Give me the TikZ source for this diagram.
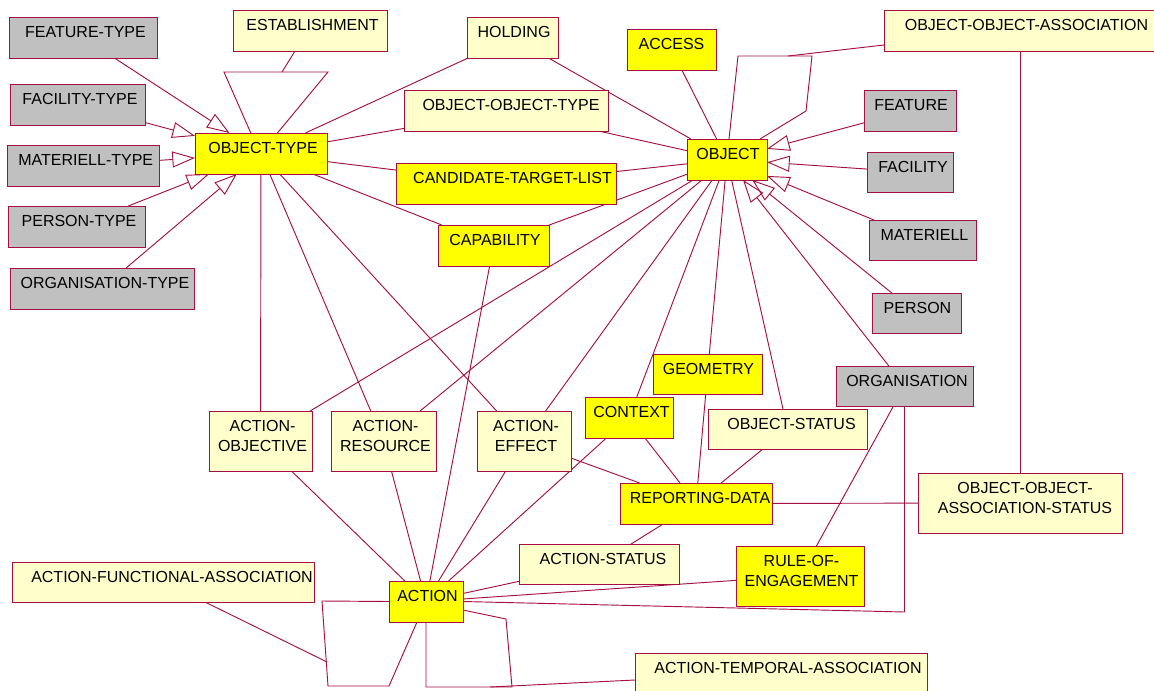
\documentclass[tikz,border=0pt]{standalone}
\usepackage{fontspec}
\setmainfont{Liberation Sans}
\usetikzlibrary{arrows.meta,calc,fit,backgrounds}

\definecolor{edge}{RGB}{165,15,65}
\definecolor{boxyellow}{RGB}{255,255,0}
\definecolor{boxcream}{RGB}{255,255,204}
\definecolor{boxgray}{RGB}{192,192,192}

\tikzset{
  entity/.style={draw=edge, line width=0.7pt, inner sep=0pt, outer sep=0pt},
  core/.style={entity, fill=boxyellow},
  plain/.style={entity, fill=boxcream},
  kind/.style={entity, fill=boxgray},
  txt/.style={anchor=base, inner sep=0pt, outer sep=0pt, font=\fontsize{12}{14}\selectfont, text=black},
  link/.style={draw=edge, line width=0.7pt},
  isa/.style={link, -{Triangle[open, length=17pt, width=12pt]}},
}

% entity box spanning two corners (pixel units, y downwards)
\newcommand\mkbox[6]{\node[#2, fit={(#3,#4) (#5,#6)}] (#1) {};}
% one-line and two-line entity names, shifted right by #2
\newcommand\lblone[3]{\node[txt] (#1-l) at ($(#1.north)+(#2,20.5)$) {#3};}
\newcommand\lbltwo[4]{\node[txt] (#1-l) at ($(#1.north)+(#2,20.5)$) {#3};
  \node[txt] (#1-m) at ($(#1.north)+(#2,40)$) {#4};}

\begin{document}
\begin{tikzpicture}[x=0.75pt, y=-0.75pt]
\useasboundingbox (0,0) rectangle (1154,690);

% ---------- type entities ----------
\mkbox{ftype}{kind}{9}{17}{157}{58}        \lblone{ftype}{2.5}{FEATURE-TYPE}
\mkbox{fctype}{kind}{10}{84}{145}{125}     \lblone{fctype}{2.5}{FACILITY-TYPE}
\mkbox{mtype}{kind}{7}{145}{159}{186}      \lblone{mtype}{2.7}{MATERIELL-TYPE}
\mkbox{ptype}{kind}{8}{206}{145}{247}      \lblone{ptype}{2.5}{PERSON-TYPE}
\mkbox{orgtype}{kind}{10}{268}{194}{309}   \lblone{orgtype}{3}{ORGANISATION-TYPE}

% ---------- object subtypes ----------
\mkbox{feat}{kind}{864}{90}{956}{131}      \lblone{feat}{1}{FEATURE}
\mkbox{fac}{kind}{867}{152}{953}{192}      \lblone{fac}{3}{FACILITY}
\mkbox{mat}{kind}{869}{220}{976}{260}      \lblone{mat}{2}{MATERIELL}
\mkbox{pers}{kind}{872}{293}{961}{333}     \lblone{pers}{1}{PERSON}
\mkbox{org}{kind}{836}{366}{973}{406}      \lblone{org}{2.5}{ORGANISATION}

% ---------- core entities ----------
\mkbox{ot}{core}{195}{133}{327}{174}       \lblone{ot}{2}{OBJECT-TYPE}
\mkbox{acc}{core}{627}{29}{716}{70}        \lblone{acc}{0}{ACCESS}
\mkbox{ctl}{core}{396}{163}{616}{204}      \lblone{ctl}{6.5}{CANDIDATE-TARGET-LIST}
\mkbox{cap}{core}{438}{225}{549}{266}      \lblone{cap}{1.5}{CAPABILITY}
\mkbox{obj}{core}{687}{139}{767}{180}      \lblone{obj}{1}{OBJECT}
\mkbox{geo}{core}{653}{354}{762}{394}      \lblone{geo}{1}{GEOMETRY}
\mkbox{ctx}{core}{585}{397}{673}{438}      \lblone{ctx}{2.5}{CONTEXT}
\mkbox{rd}{core}{620}{483}{772}{524}       \lblone{rd}{4}{REPORTING-DATA}
\mkbox{roe}{core}{736}{546}{864}{606}      \lbltwo{roe}{1.5}{RULE-OF-}{ENGAGEMENT}
\mkbox{act}{core}{389}{581}{463}{622}      \lblone{act}{1.5}{ACTION}

% ---------- associative entities ----------
\mkbox{est}{plain}{233}{10}{387}{51}       \lblone{est}{2.5}{ESTABLISHMENT}
\mkbox{hold}{plain}{467}{17}{558}{58}      \lblone{hold}{1.5}{HOLDING}
\mkbox{oot}{plain}{404}{90}{608}{131}      \lblone{oot}{5}{OBJECT-OBJECT-TYPE}
\mkbox{ooa}{plain}{884}{10}{1170}{51}      \lblone{ooa}{-0.5}{OBJECT-OBJECT-ASSOCIATION}
\mkbox{ostat}{plain}{708}{409}{867}{449}   \lblone{ostat}{4}{OBJECT-STATUS}
\mkbox{ooas}{plain}{918}{473}{1122}{533}   \lbltwo{ooas}{5}{OBJECT-OBJECT-}{ASSOCIATION-STATUS}
\mkbox{ao}{plain}{209}{411}{312}{471}      \lbltwo{ao}{2}{ACTION-}{OBJECTIVE}
\mkbox{ar}{plain}{331}{411}{436}{471}      \lbltwo{ar}{2}{ACTION-}{RESOURCE}
\mkbox{ae}{plain}{477}{411}{571}{471}      \lbltwo{ae}{2}{ACTION-}{EFFECT}
\mkbox{astat}{plain}{519}{544}{679}{584}   \lblone{astat}{4}{ACTION-STATUS}
\mkbox{afa}{plain}{12}{562}{314}{602}      \lblone{afa}{9}{ACTION-FUNCTIONAL-ASSOCIATION}
\mkbox{ata}{plain}{635}{653}{927}{692}     \lblone{ata}{7}{ACTION-TEMPORAL-ASSOCIATION}

% ---------- bend points ----------
\coordinate (est-in) at (282,72);
\coordinate (tri-l) at (224,72);
\coordinate (tri-r) at (328,72);
\coordinate (tri-a) at (260,154);
\coordinate (oloop-a) at (738,56);
\coordinate (oloop-b) at (812,56);
\coordinate (oloop-c) at (806,111);
\coordinate (oloop-m) at (788,56);
\coordinate (fl-a) at (322,601);
\coordinate (fl-b) at (328,686);
\coordinate (fl-c) at (389,686);
\coordinate (fl-m) at (327,662);
\coordinate (tl-a) at (426,687);
\coordinate (tl-b) at (512,687);
\coordinate (tl-c) at (506,619);
\coordinate (tl-m) at (490,687);
\coordinate (oa-c) at (904.5,612);

\begin{pgfonlayer}{background}
% generalisations
\draw[isa] (ftype) -- (ot);
\draw[isa] (fctype) -- (ot);
\draw[isa] (mtype) -- (ot);
\draw[isa] (ptype) -- (ot);
\draw[isa] (orgtype) -- (ot);
\draw[isa] (feat) -- (obj);
\draw[isa] (fac) -- (obj);
\draw[isa] (mat) -- (obj);
\draw[isa] (pers) -- (obj);
\draw[isa] (org) -- (obj);

% establishment aggregation
\draw[link] ($(est.south)+(-15,0)$) -- (est-in);
\draw[link] (tri-l) -- (tri-r) -- (tri-a) -- cycle;

% object-type relations
\draw[link] (ot) -- (hold);
\draw[link] (ot) -- (oot);
\draw[link] (oot) -- (obj);
\draw[link] (ot) -- (ctl);
\draw[link] (ctl) -- (obj);
\draw[link] (ot) -- (cap);
\draw[link] (cap) -- (obj);
\draw[link] (cap) -- (act);
\draw[link] (ot) -- (ao);
\draw[link] (ot) -- (ar);
\draw[link] (ot) -- (ae);

% object relations
\draw[link] (acc) -- (obj);
\draw[link] (hold) -- (obj);
\draw[link] (obj) -- (ao);
\draw[link] (obj) -- (ar);
\draw[link] (obj) -- (ae);
\draw[link] (obj) -- (ctx);
\draw[link] (obj) -- (geo);
\draw[link] (obj) -- (ostat);
\draw[link] ($(obj.north)+(2,0)$) -- (oloop-a) -- (oloop-b) -- (oloop-c) -- ($(obj.north east)+(-7,0)$);
\draw[link] (oloop-m) -- ($(ooa.south west)+(0,-6)$);
\draw[link] (ooa.south -| ooas.north) -- (ooas.north);

% action relations
\draw[link] (ao) -- (act);
\draw[link] (ar) -- (act);
\draw[link] (ae) -- (act);
\draw[link] (ctx) -- (act);
\draw[link] (act) -- (astat);
\draw[link] (act) -- (roe);
\draw[link] (act.east) -- (oa-c) -- (org.south);
\draw[link] (org) -- (roe);
\draw[link] (act.west) -- (fl-a) -- (fl-b) -- (fl-c) -- ($(act.south)+(-9,0)$);
\draw[link] ($(afa.south)+(42,0)$) -- (fl-m);
\draw[link] (act.south) -- (tl-a) -- (tl-b) -- (tl-c) -- ($(act.east)+(0,8.5)$);
\draw[link] (tl-m) -- ($(ata.west)+(0,7.5)$);

% reporting data
\draw[link] (ae) -- (rd);
\draw[link] (ctx) -- (rd);
\draw[link] (geo) -- (rd);
\draw[link] (ostat) -- (rd);
\draw[link] (rd) -- (ooas);
\draw[link] (rd) -- (astat);
\end{pgfonlayer}
\end{tikzpicture}
\end{document}
